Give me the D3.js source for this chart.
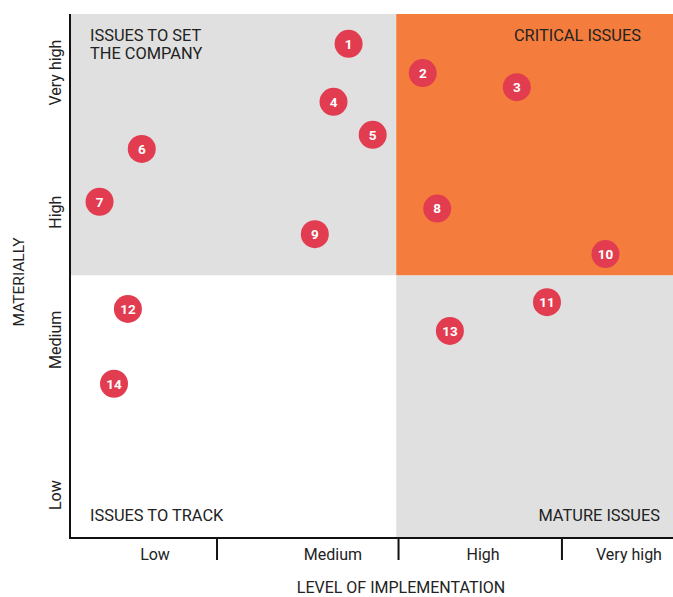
<!DOCTYPE html>
<html><head><meta charset="utf-8">
<script src="https://cdn.jsdelivr.net/npm/d3@7"></script>
<style>
html,body{margin:0;padding:0;background:#fff;}
svg{display:block;font-family:Roboto,"Noto Sans",sans-serif;}
</style></head>
<body>
<script>
// ---- data ----
const issueIds = [1,2,3,4,5,6,7,8,9,10,11,12,13,14];
const implementation = [4.62,5.85,7.41,4.37,5.02,1.19,0.49,6.09,4.06,8.88,7.91,0.96,6.30,0.73];
const materiality   = [9.43,8.87,8.60,8.32,7.69,7.42,6.41,6.28,5.79,5.41,4.49,4.36,3.94,2.93];
const xCategories = ["Low","Medium","High","Very high"];
const xCategoryCenters = [1.41,4.36,6.85,9.27];
const xCategoryBounds = [2.43,5.44,8.15];
const yCategories = ["Low","Medium","High","Very high"];
const yCategoryCenters = [0.80,3.77,6.21,8.88];
const xSplit = 5.41, ySplit = 5.0;
const quadrantNames = ["ISSUES TO SET\nTHE COMPANY","CRITICAL ISSUES","ISSUES TO TRACK","MATURE ISSUES"];

// ---- chart ----
const W = 673, H = 597;
const svg = d3.select("body").append("svg").attr("width",W).attr("height",H);
const x = d3.scaleLinear().domain([0,10]).range([70,673]);
const y = d3.scaleLinear().domain([0,10]).range([537,14]);

const quads = [
  {x0:0,x1:xSplit,y0:ySplit,y1:10,fill:"#e0e0e0"},
  {x0:xSplit,x1:10,y0:ySplit,y1:10,fill:"#f47d3d"},
  {x0:0,x1:xSplit,y0:0,y1:ySplit,fill:"#ffffff"},
  {x0:xSplit,x1:10,y0:0,y1:ySplit,fill:"#e0e0e0"}
];
svg.selectAll("rect.q").data(quads).join("rect").attr("class","q")
  .attr("x",d=>x(d.x0)).attr("width",d=>x(d.x1)-x(d.x0))
  .attr("y",d=>y(d.y1)).attr("height",d=>y(d.y0)-y(d.y1))
  .attr("fill",d=>d.fill);

// quadrant labels
const qText = svg.append("g").attr("font-size",16.4).attr("fill","#222");
const tl = qText.append("text").attr("x",90).attr("y",40.5);
quadrantNames[0].split("\n").forEach((s,i)=>tl.append("tspan").attr("x",90).attr("dy",i?18:0).text(s));
qText.append("text").attr("x",641).attr("y",40.5).attr("text-anchor","end").text(quadrantNames[1]);
qText.append("text").attr("x",90).attr("y",520.5).text(quadrantNames[2]);
qText.append("text").attr("x",660).attr("y",520.5).attr("text-anchor","end").text(quadrantNames[3]);

// axes
const xAxis = svg.append("g").attr("transform",`translate(0,${y(0)+1})`)
  .call(d3.axisBottom(x).tickValues(xCategoryBounds).tickSize(22).tickFormat(""));
xAxis.select(".domain").attr("d",`M69,0H673`).attr("stroke","#111").attr("stroke-width",2);
xAxis.selectAll(".tick line").attr("stroke","#111").attr("stroke-width",2);
svg.append("g").attr("font-size",16).attr("fill","#222").attr("text-anchor","middle")
  .selectAll("text").data(xCategories).join("text")
  .attr("x",(d,i)=>x(xCategoryCenters[i])).attr("y",560).text(d=>d);

const yAxis = svg.append("g").attr("transform",`translate(70,0)`)
  .call(d3.axisLeft(y).tickValues([]).tickSize(0));
yAxis.select(".domain").attr("d",`M0,14V539`).attr("stroke","#111").attr("stroke-width",2);
svg.append("g").attr("font-size",16).attr("fill","#222").attr("text-anchor","middle")
  .selectAll("text").data(yCategories).join("text")
  .attr("transform",(d,i)=>`translate(61,${y(yCategoryCenters[i])}) rotate(-90)`).text(d=>d);

// axis titles
svg.append("text").attr("x",401).attr("y",592.5).attr("text-anchor","middle")
  .attr("font-size",16).attr("fill","#222").text("LEVEL OF IMPLEMENTATION");
svg.append("text").attr("transform","translate(23.5,282) rotate(-90)").attr("text-anchor","middle")
  .attr("font-size",15.5).attr("fill","#222").text("MATERIALLY");

// points
const pts = issueIds.map((id,i)=>({id,x:implementation[i],y:materiality[i]}));
const g = svg.selectAll("g.pt").data(pts).join("g").attr("class","pt")
  .attr("transform",d=>`translate(${x(d.x)},${y(d.y)})`);
g.append("circle").attr("r",14).attr("fill","#e23c50");
g.append("text").attr("text-anchor","middle").attr("dy","0.36em")
  .attr("font-size",13.5).attr("font-weight","bold").attr("fill","#fff").text(d=>d.id);
</script>
</body></html>
